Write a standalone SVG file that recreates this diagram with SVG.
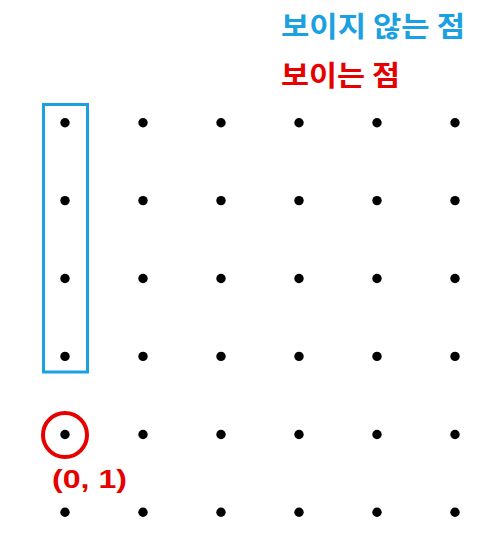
<svg xmlns="http://www.w3.org/2000/svg" width="500" height="550" viewBox="0 0 500 550">
<style>
.dot{fill:#000}
.kr{font-family:"Noto Sans CJK KR","Noto Sans",sans-serif;font-weight:bold;font-size:28px}
.blue{fill:#1ba1e2}
.red{fill:#e60000}
</style>
<rect width="500" height="550" fill="#fff"/>
<g id="legend">
<text class="kr blue" x="281" y="37" textLength="184" lengthAdjust="spacingAndGlyphs">보이지 않는 점</text>
<text class="kr red" x="281" y="86" textLength="119" lengthAdjust="spacingAndGlyphs">보이는 점</text>
</g>
<g id="grid">
<circle class="dot" cx="65" cy="122.7" r="4.7"/><circle class="dot" cx="143" cy="122.7" r="4.7"/><circle class="dot" cx="221" cy="122.7" r="4.7"/><circle class="dot" cx="299" cy="122.7" r="4.7"/><circle class="dot" cx="377" cy="122.7" r="4.7"/><circle class="dot" cx="455" cy="122.7" r="4.7"/>
<circle class="dot" cx="65" cy="200.6" r="4.7"/><circle class="dot" cx="143" cy="200.6" r="4.7"/><circle class="dot" cx="221" cy="200.6" r="4.7"/><circle class="dot" cx="299" cy="200.6" r="4.7"/><circle class="dot" cx="377" cy="200.6" r="4.7"/><circle class="dot" cx="455" cy="200.6" r="4.7"/>
<circle class="dot" cx="65" cy="278.5" r="4.7"/><circle class="dot" cx="143" cy="278.5" r="4.7"/><circle class="dot" cx="221" cy="278.5" r="4.7"/><circle class="dot" cx="299" cy="278.5" r="4.7"/><circle class="dot" cx="377" cy="278.5" r="4.7"/><circle class="dot" cx="455" cy="278.5" r="4.7"/>
<circle class="dot" cx="65" cy="356.4" r="4.7"/><circle class="dot" cx="143" cy="356.4" r="4.7"/><circle class="dot" cx="221" cy="356.4" r="4.7"/><circle class="dot" cx="299" cy="356.4" r="4.7"/><circle class="dot" cx="377" cy="356.4" r="4.7"/><circle class="dot" cx="455" cy="356.4" r="4.7"/>
<circle class="dot" cx="65" cy="434.5" r="4.7"/><circle class="dot" cx="143" cy="434.5" r="4.7"/><circle class="dot" cx="221" cy="434.5" r="4.7"/><circle class="dot" cx="299" cy="434.5" r="4.7"/><circle class="dot" cx="377" cy="434.5" r="4.7"/><circle class="dot" cx="455" cy="434.5" r="4.7"/>
<circle class="dot" cx="65" cy="512.2" r="4.7"/><circle class="dot" cx="143" cy="512.2" r="4.7"/><circle class="dot" cx="221" cy="512.2" r="4.7"/><circle class="dot" cx="299" cy="512.2" r="4.7"/><circle class="dot" cx="377" cy="512.2" r="4.7"/><circle class="dot" cx="455" cy="512.2" r="4.7"/>
</g>
<g id="hidden-box">
<rect x="43.5" y="104.5" width="44" height="267.5" fill="none" stroke="#1ba1e2" stroke-width="3"/>
</g>
<g id="visible-point">
<circle cx="65" cy="435" r="22" fill="none" stroke="#e60000" stroke-width="4"/>
<text x="52" y="487.5" fill="#e60000" font-family="Liberation Sans, Arial, sans-serif" font-weight="bold" font-size="25" textLength="75" lengthAdjust="spacingAndGlyphs">(0, 1)</text>
</g>
</svg>
